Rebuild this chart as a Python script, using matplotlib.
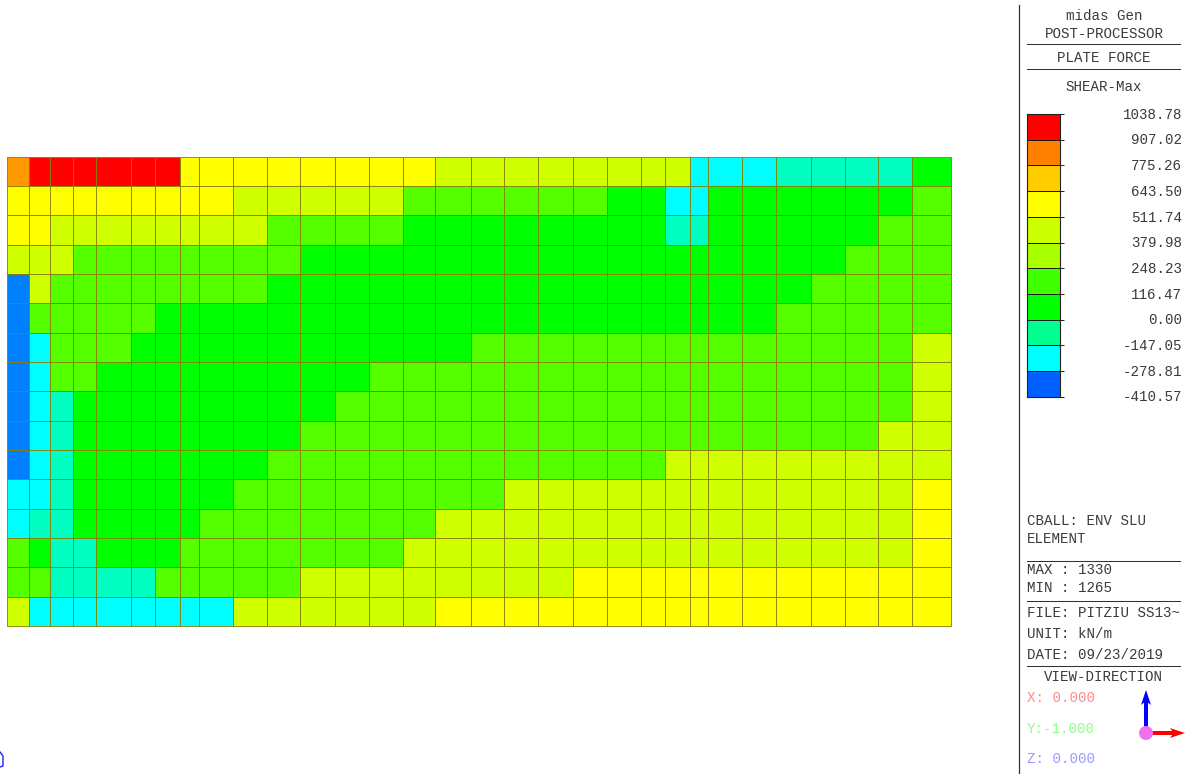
"""Plate force contour (midas Gen post-processor view)."""

import matplotlib

matplotlib.use("Agg")

import matplotlib.pyplot as plt
import numpy as np
from matplotlib.colors import ListedColormap
from matplotlib.patches import Circle

WIDTH, HEIGHT = 1189, 774

plt.rcParams["font.family"] = ["Liberation Mono", "DejaVu Sans Mono"]

# element boundaries along the wall, one more than the number of columns
column_edges = [
    0, 22, 42.5, 66, 89, 123.5, 147.5, 172.5, 192, 226, 260, 293, 327.5, 361.5, 395.5, 427.5,
    464, 497, 531, 565.5, 600, 633.5, 658.2, 682.5, 700.8, 735.2, 769.2, 803.5, 837.5, 870.8,
    904.8, 944.2,
]
row_edges = list(range(17))

# one letter per element, top row first
element_bands = [
    "ORRRRRRYYYYYYYYLLLLLLLLCCCTTTTN",
    "YYYYYYYYYLLLLLGGGGGGNNCCNNNNNNG",
    "YYLLLLLLLLGGGGNNNNNNNNTTNNNNNGG",
    "LLLGGGGGGGGNNNNNNNNNNNNNNNNNGGG",
    "BLGGGGGGGGNNNNNNNNNNNNNNNNNGGGG",
    "BGGGGGNNNNNNNNNNNNNNNNNNNNGGGGG",
    "BCGGGNNNNNNNNNNNGGGGGGGGGGGGGGL",
    "BCGGNNNNNNNNNGGGGGGGGGGGGGGGGGL",
    "BCTNNNNNNNNNGGGGGGGGGGGGGGGGGGL",
    "BCTNNNNNNNNGGGGGGGGGGGGGGGGGGLL",
    "BCTNNNNNNNGGGGGGGGGGGGLLLLLLLLL",
    "CCTNNNNNNGGGGGGGGLLLLLLLLLLLLLY",
    "CTTNNNNNGGGGGGGLLLLLLLLLLLLLLLY",
    "GNTTNNNGGGGGGGLLLLLLLLLLLLLLLLY",
    "GGTTTTGGGGGLLLLLLLLYYYYYYYYYYYY",
    "LCCCCCCCCLLLLLLYYYYYYYYYYYYYYYY",
]
band_keys = "BCTNGLYOR"
band_colors = ["#0080ff", "#00ffff", "#00ffc0", "#00ff00", "#55ff00", "#d0ff00", "#ffff00", "#ff9900", "#ff0000"]

# contour legend, bottom band first
legend_values = [
    "-410.57", "-278.81", "-147.05", "0.00", "116.47", "248.23",
    "379.98", "511.74", "643.50", "775.26", "907.02", "1038.78",
]
legend_colors = [
    "#0060ff", "#00ffff", "#00ff90", "#00ff00", "#40ff00", "#aaff00",
    "#ccff00", "#ffff00", "#ffcc00", "#ff8000", "#ff0000",
]

title_lines = ["midas Gen", "POST-PROCESSOR", "PLATE FORCE", "SHEAR-Max"]
info_lines = [
    "CBALL: ENV SLU", "ELEMENT", "MAX : 1330", "MIN : 1265",
    "FILE: PITZIU SS13~", "UNIT: kN/m", "DATE: 09/23/2019",
]
view_labels = ["X: 0.000", "Y:-1.000", "Z: 0.000"]
view_colors = ["#ff8a8a", "#8aff8a", "#9a9aff"]

TEXT = "#3a3a3a"
FONT = 10.2


def add_pixel_axes(fig, left, top, right, bottom):
    return fig.add_axes([left / WIDTH, 1 - bottom / HEIGHT, (right - left) / WIDTH, (bottom - top) / HEIGHT])


fig = plt.figure(figsize=(WIDTH / 100, HEIGHT / 100), dpi=100, facecolor="white")

# contour mesh
mesh_ax = add_pixel_axes(fig, 7, 156.5, 951.2, 626)
cells = np.array([[band_keys.index(c) for c in row] for row in element_bands])
mesh = mesh_ax.pcolormesh(
    column_edges, row_edges, cells, cmap=ListedColormap(band_colors), vmin=-0.5, vmax=len(band_keys) - 0.5,
    edgecolors="#857f00", linewidth=0.6, antialiased=True,
)
mesh.set_clip_on(False)
mesh_ax.set_xlim(column_edges[0], column_edges[-1])
mesh_ax.set_ylim(row_edges[-1], row_edges[0])
mesh_ax.axis("off")

# colour legend
legend_ax = add_pixel_axes(fig, 1027, 114, 1060, 396.7)
bands = np.arange(len(legend_colors)).reshape(-1, 1)
legend_ax.pcolormesh(
    [0, 1], np.arange(len(legend_values)), bands, cmap=ListedColormap(legend_colors),
    edgecolors="none",
)
legend_ax.set_xticks([])
legend_ax.yaxis.tick_right()
legend_ax.set_yticks(np.arange(len(legend_values)))
legend_ax.set_yticklabels([])
legend_ax.tick_params(axis="y", length=3, width=0.7, color="#222222")
legend_ax.hlines(np.arange(len(legend_values)), 0, 1, color="#111111", linewidth=0.7)
for spine in legend_ax.spines.values():
    spine.set_color("#222222")
    spine.set_linewidth(0.8)
for i, label in enumerate(legend_values):
    legend_ax.text(
        4.70, i - 0.03, label, transform=legend_ax.get_yaxis_transform(), ha="right", va="center",
        fontsize=FONT, color=TEXT, clip_on=False,
    )

# side panel, drawn in picture pixels
panel = fig.add_axes([0, 0, 1, 1], facecolor="none")
panel.set_xlim(0, WIDTH)
panel.set_ylim(HEIGHT, 0)
panel.axis("off")

panel.plot([1019, 1019], [5, HEIGHT], color="#333333", linewidth=0.9)
for y in [44, 69, 560.5, 600.5, 665.5]:
    panel.plot([1027, 1180], [y, y], color="#333333", linewidth=0.75)

for text, y in zip(title_lines, [16, 34, 57.5, 87]):
    panel.text(1104, y, text, ha="center", va="center", fontsize=FONT, color=TEXT)
for text, y in zip(info_lines, [521, 539, 570, 588, 613, 634, 655]):
    panel.text(1027, y, text, ha="left", va="center", fontsize=FONT, color=TEXT)
panel.text(1103.5, 677, "VIEW-DIRECTION", ha="center", va="center", fontsize=FONT, color=TEXT)
for text, color, y in zip(view_labels, view_colors, [698.5, 729, 759]):
    panel.text(1027, y, text, ha="left", va="center", fontsize=FONT, color=color)

# view triad
arrow_style = dict(width=4, head_width=10, head_length=15, length_includes_head=True, linewidth=0, overhang=0.15)
panel.arrow(1146, 733, 0, -43, color="#0000ff", **arrow_style)
panel.arrow(1146, 733, 39, 0, color="#ff0000", **arrow_style)
panel.add_patch(Circle((1146, 733), 7, facecolor="#f070f0", edgecolor="none", zorder=5))

# stray fragment of the model at the lower left corner
panel.plot([0, 3, 3, 0], [752, 756, 766, 767], color="#2020ff", linewidth=1.0)

fig.savefig("out.png", dpi=100)
